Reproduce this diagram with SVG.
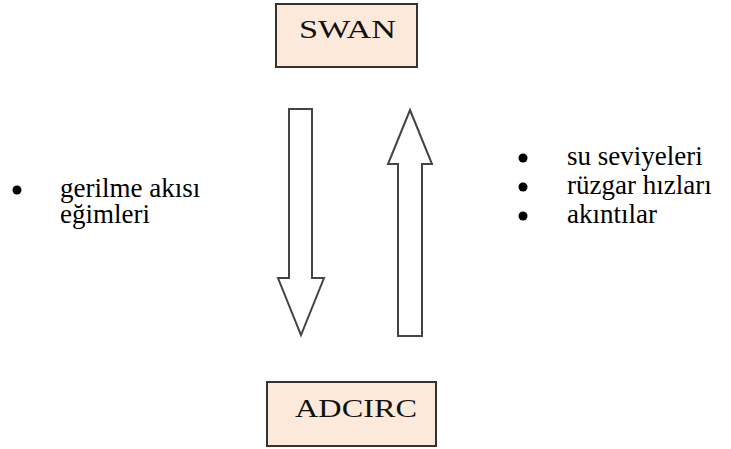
<svg xmlns="http://www.w3.org/2000/svg" width="731" height="449" viewBox="0 0 731 449">
<style>
.box{fill:#fde9d9;stroke:#333;stroke-width:2}
.serif{font-family:'Liberation Serif',Tinos,'Times New Roman','Noto Serif','DejaVu Serif',FreeSerif,serif}
.lbl{font-size:25px;fill:#111}
.txt{font-size:27px;fill:#000}
.arrow{fill:#fff;stroke:#444;stroke-width:2;stroke-linejoin:miter}
</style>
<rect width="731" height="449" fill="#fff"/>
<g id="swan">
<rect class="box" x="276" y="4" width="141" height="63"/>
<text class="lbl serif" x="299" y="38" textLength="97" lengthAdjust="spacingAndGlyphs">SWAN</text>
</g>
<g id="adcirc">
<rect class="box" x="267" y="382" width="169" height="64"/>
<text class="lbl serif" x="295" y="417" textLength="122" lengthAdjust="spacingAndGlyphs">ADCIRC</text>
</g>
<g id="connectors">
<polygon class="arrow" points="289,109 312,109 312,278 324,278 301,335 278,278 289,278"/>
<polygon class="arrow" points="410,110 432,164 422,164 422,336 398,336 398,164 388,164"/>
</g>
<g id="left-labels">
<circle cx="17" cy="190" r="4.5"/>
<text class="txt serif" x="60" y="197">gerilme akısı</text>
<text class="txt serif" x="60" y="223">eğimleri</text>
</g>
<g id="right-labels">
<circle cx="523" cy="158" r="4.5"/>
<circle cx="523" cy="187" r="4.5"/>
<circle cx="523" cy="216" r="4.5"/>
<text class="txt serif" x="567" y="165">su seviyeleri</text>
<text class="txt serif" x="567" y="194">rüzgar hızları</text>
<text class="txt serif" x="567" y="223">akıntılar</text>
</g>
</svg>
